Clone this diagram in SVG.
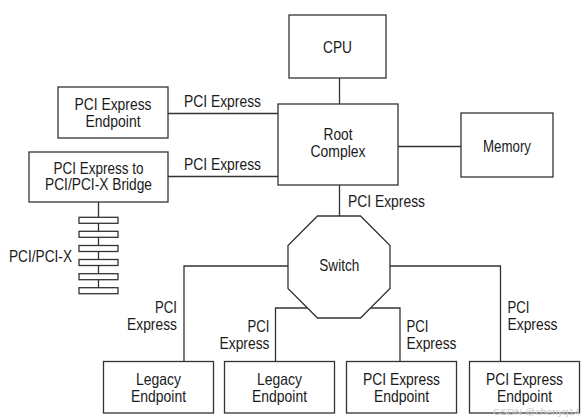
<svg xmlns="http://www.w3.org/2000/svg" width="585" height="418" viewBox="0 0 585 418">
<style>
.box{fill:#fff;stroke:#333;stroke-width:1.3}
.ln{fill:none;stroke:#333;stroke-width:1.3}
text{font-family:"Liberation Sans",Arial,sans-serif;font-size:16.5px;fill:#1a1a1a}
.c{text-anchor:middle}
.r{text-anchor:end}
.wm{font-family:"Liberation Sans",Arial,sans-serif;font-size:9.5px;fill:#c8c8c8}
</style>
<rect width="585" height="418" fill="#fff"/>
<g id="connectors">
<line class="ln" x1="339.5" y1="78" x2="339.5" y2="104"/>
<line class="ln" x1="168" y1="113.5" x2="278" y2="113.5"/>
<line class="ln" x1="168" y1="176.5" x2="278" y2="176.5"/>
<line class="ln" x1="398" y1="146.5" x2="461" y2="146.5"/>
<line class="ln" x1="339.5" y1="185" x2="339.5" y2="216"/>
<line class="ln" x1="98.5" y1="202" x2="98.5" y2="288"/>
<polyline class="ln" points="288,266 184,266 184,361.5"/>
<polyline class="ln" points="307.5,308 275.5,308 275.5,361.5"/>
<polyline class="ln" points="390,266 500.5,266 500.5,361.5"/>
<polyline class="ln" points="370.5,308 400,308 400,361.5"/>
<text x="184" y="107" textLength="77" lengthAdjust="spacingAndGlyphs">PCI Express</text>
<text x="184" y="169.5" textLength="77" lengthAdjust="spacingAndGlyphs">PCI Express</text>
<text x="348" y="207" textLength="77" lengthAdjust="spacingAndGlyphs">PCI Express</text>
<text class="r" x="177" y="312.5" textLength="22" lengthAdjust="spacingAndGlyphs">PCI</text>
<text class="r" x="177" y="329.5" textLength="50" lengthAdjust="spacingAndGlyphs">Express</text>
<text class="r" x="269.5" y="331.7" textLength="22" lengthAdjust="spacingAndGlyphs">PCI</text>
<text class="r" x="269.5" y="349" textLength="50" lengthAdjust="spacingAndGlyphs">Express</text>
<text x="406.5" y="331.7" textLength="22" lengthAdjust="spacingAndGlyphs">PCI</text>
<text x="406.5" y="349" textLength="50" lengthAdjust="spacingAndGlyphs">Express</text>
<text x="507.5" y="312.5" textLength="22" lengthAdjust="spacingAndGlyphs">PCI</text>
<text x="507.5" y="329.5" textLength="50" lengthAdjust="spacingAndGlyphs">Express</text>
</g>
<g id="cpu">
<rect class="box" x="289" y="15" width="97" height="63"/>
<text class="c" x="337.5" y="52.5" textLength="29" lengthAdjust="spacingAndGlyphs">CPU</text>
</g>
<g id="root-complex">
<rect class="box" x="278" y="104" width="120" height="81"/>
<text class="c" x="338" y="140" textLength="29" lengthAdjust="spacingAndGlyphs">Root</text>
<text class="c" x="338" y="157" textLength="55" lengthAdjust="spacingAndGlyphs">Complex</text>
</g>
<g id="memory">
<rect class="box" x="461" y="113" width="92" height="64"/>
<text class="c" x="507" y="152" textLength="48" lengthAdjust="spacingAndGlyphs">Memory</text>
</g>
<g id="pcie-endpoint-top">
<rect class="box" x="58" y="87" width="110" height="51"/>
<text class="c" x="113" y="110" textLength="77" lengthAdjust="spacingAndGlyphs">PCI Express</text>
<text class="c" x="113" y="126.5" textLength="55" lengthAdjust="spacingAndGlyphs">Endpoint</text>
</g>
<g id="bridge">
<rect class="box" x="29" y="152" width="139" height="50"/>
<text class="c" x="98.5" y="173.5" textLength="90" lengthAdjust="spacingAndGlyphs">PCI Express to</text>
<text class="c" x="98.5" y="190" textLength="107" lengthAdjust="spacingAndGlyphs">PCI/PCI-X Bridge</text>
</g>
<g id="pci-bus">
<rect class="box" x="79" y="217.3" width="39" height="6"/>
<rect class="box" x="79" y="231.3" width="39" height="6"/>
<rect class="box" x="79" y="245.5" width="39" height="6"/>
<rect class="box" x="79" y="259.5" width="39" height="6"/>
<rect class="box" x="79" y="273.7" width="39" height="6"/>
<rect class="box" x="79" y="287.7" width="39" height="6"/>
<text x="9" y="262" textLength="63" lengthAdjust="spacingAndGlyphs">PCI/PCI-X</text>
</g>
<g id="switch">
<polygon class="box" points="317.5,216 360.5,216 390,245.5 390,288.5 360.5,318 317.5,318 288,288.5 288,245.5"/>
<text class="c" x="339.3" y="271" textLength="40" lengthAdjust="spacingAndGlyphs">Switch</text>
</g>
<g id="legacy-endpoint-1">
<rect class="box" x="103.5" y="361.5" width="110" height="51.5"/>
<text class="c" x="158.5" y="385" textLength="45" lengthAdjust="spacingAndGlyphs">Legacy</text>
<text class="c" x="158.5" y="401.7" textLength="55" lengthAdjust="spacingAndGlyphs">Endpoint</text>
</g>
<g id="legacy-endpoint-2">
<rect class="box" x="224.5" y="361.5" width="110" height="51.5"/>
<text class="c" x="279.5" y="385" textLength="45" lengthAdjust="spacingAndGlyphs">Legacy</text>
<text class="c" x="279.5" y="401.7" textLength="55" lengthAdjust="spacingAndGlyphs">Endpoint</text>
</g>
<g id="pcie-endpoint-1">
<rect class="box" x="346.5" y="361.5" width="110" height="51.5"/>
<text class="c" x="401.5" y="385" textLength="77" lengthAdjust="spacingAndGlyphs">PCI Express</text>
<text class="c" x="401.5" y="401.7" textLength="55" lengthAdjust="spacingAndGlyphs">Endpoint</text>
</g>
<g id="pcie-endpoint-2">
<rect class="box" x="469.5" y="361.5" width="110" height="51.5"/>
<text class="c" x="524.5" y="385" textLength="77" lengthAdjust="spacingAndGlyphs">PCI Express</text>
<text class="c" x="524.5" y="401.7" textLength="55" lengthAdjust="spacingAndGlyphs">Endpoint</text>
</g>
<text class="wm" x="493" y="414.5" textLength="87" lengthAdjust="spacingAndGlyphs">CSDN @chenyq14</text>
</svg>
